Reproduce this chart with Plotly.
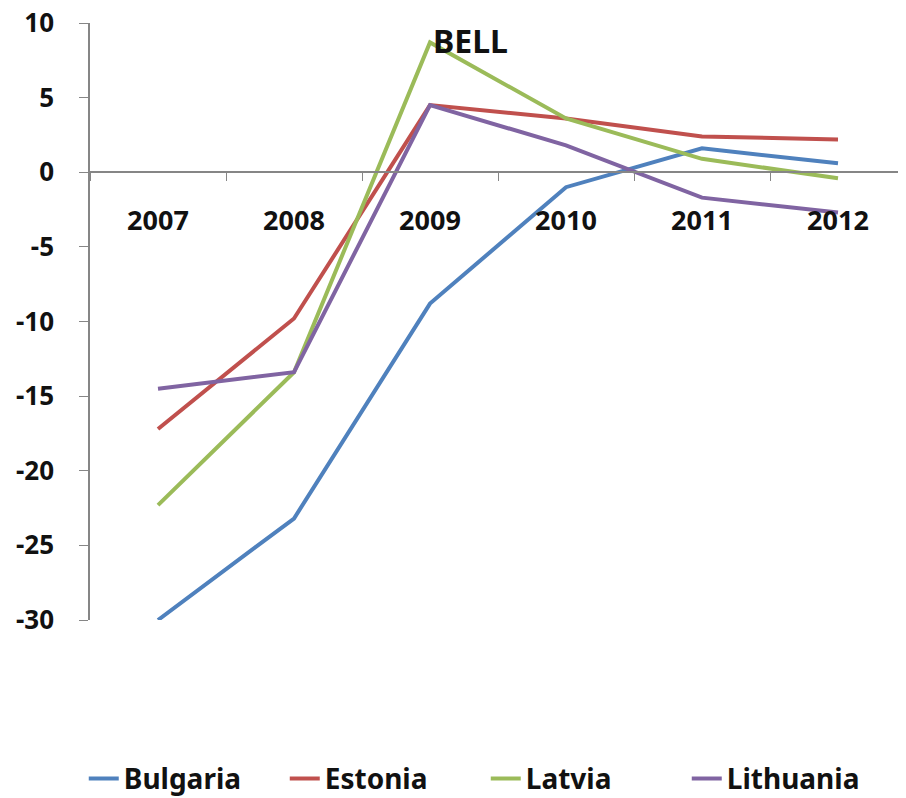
import plotly.graph_objects as go

years = ["2007", "2008", "2009", "2010", "2011", "2012"]
bulgaria = [-30.0, -23.2, -8.8, -1.0, 1.6, 0.6]
estonia = [-17.2, -9.8, 4.5, 3.6, 2.4, 2.2]
latvia = [-22.3, -13.4, 8.7, 3.6, 0.9, -0.4]
lithuania = [-14.5, -13.4, 4.5, 1.8, -1.7, -2.7]
series_names = ["Bulgaria", "Estonia", "Latvia", "Lithuania"]
colors = ["#4F81BD", "#C0504D", "#9BBB59", "#8064A2"]
ytick_vals = [-30, -25, -20, -15, -10, -5, 0, 5, 10]
ytick_text = ["-30", "-25", "-20", "-15", "-10", "-5", "0", "5", "10"]

fig = go.Figure()
for name, vals, col in zip(series_names, [bulgaria, estonia, latvia, lithuania], colors):
    fig.add_trace(go.Scatter(x=years, y=vals, mode="lines", name=name,
                             line=dict(color=col, width=4)))

fig.update_layout(
    width=898, height=790,
    margin=dict(l=82, r=0, t=15, b=178, autoexpand=False),
    paper_bgcolor="white", plot_bgcolor="white",
    showlegend=True,
    legend=dict(orientation="h", x=0.485, xanchor="center", y=-0.266, yanchor="middle",
                font=dict(family="Noto Sans", size=28, color="#111111", weight="bold"),
                entrywidth=156, entrywidthmode="pixels", tracegroupgap=0),
    xaxis=dict(type="category", range=[-0.5, 5.5], anchor="free", position=0.75,
               showline=True, linecolor="#868686", linewidth=1.5, automargin=False,
               ticks="outside", ticklen=8, tickcolor="#868686", tickson="boundaries",
               showgrid=False, zeroline=False, ticklabelstandoff=25,
               tickfont=dict(family="Noto Sans", size=27, color="#111111", weight="bold")),
    yaxis=dict(range=[-30, 10], tickvals=ytick_vals, ticktext=ytick_text, showline=True,
               linecolor="#868686", automargin=False, ticklabeloverflow="allow",
               linewidth=1.5, ticks="outside", ticklen=9, tickcolor="#868686",
               showgrid=False, zeroline=False, ticklabelstandoff=20,
               tickfont=dict(family="Noto Sans", size=26, color="#111111", weight="bold")),
    annotations=[dict(x=2, y=8.8, xref="x", yref="y", text="BELL", showarrow=False,
                      xanchor="left", yanchor="middle", xshift=1,
                      font=dict(family="Noto Sans", size=32, color="#111111", weight="bold"))],
)

fig.write_html("out.html")
